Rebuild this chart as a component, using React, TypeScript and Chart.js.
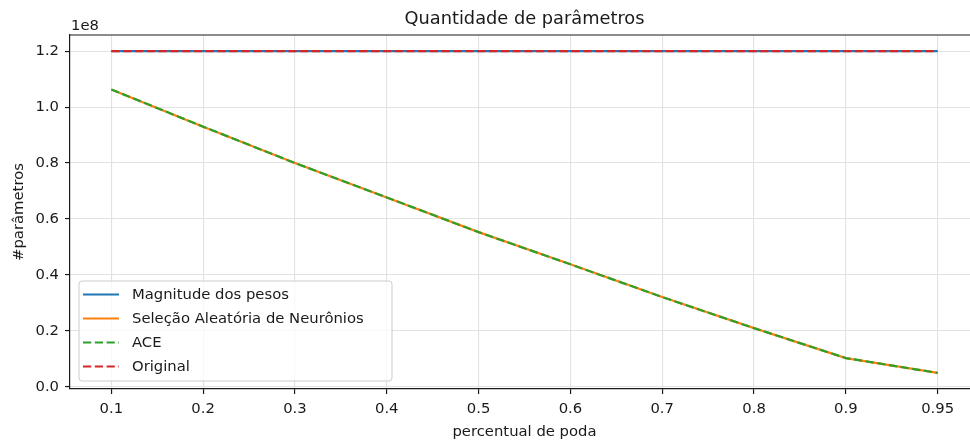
import React, { useEffect, useRef } from "react";
import { Chart, registerables } from "chart.js";

Chart.register(...registerables);

const xLabels = ["0.1", "0.2", "0.3", "0.4", "0.5", "0.6", "0.7", "0.8", "0.9", "0.95"];
const yTicks = [0, 0.2e8, 0.4e8, 0.6e8, 0.8e8, 1.0e8, 1.2e8];

const magnitudePesos = [1.2e8, 1.2e8, 1.2e8, 1.2e8, 1.2e8, 1.2e8, 1.2e8, 1.2e8, 1.2e8, 1.2e8];
const selecaoAleatoria = [1.063e8, 0.93e8, 0.8e8, 0.677e8, 0.553e8, 0.438e8, 0.321e8, 0.21e8, 0.103e8, 0.05e8];
const ace = [1.063e8, 0.93e8, 0.8e8, 0.677e8, 0.553e8, 0.438e8, 0.321e8, 0.21e8, 0.103e8, 0.05e8];
const original = [1.2e8, 1.2e8, 1.2e8, 1.2e8, 1.2e8, 1.2e8, 1.2e8, 1.2e8, 1.2e8, 1.2e8];

const seriesNames = ["Magnitude dos pesos", "Seleção Aleatória de Neurônios", "ACE", "Original"];
const seriesColors = ["#1f77b4", "#ff7f0e", "#2ca02c", "#d62728"];
const seriesDashed = [false, false, true, true];

const FONT = "'DejaVu Sans', sans-serif";
const DASH = [8.2, 3.6];
const LW = 2.2;
const GRID = "#e2e2e2";
const INK = "#1a1a1a";

const toPoints = (arr: number[]) => arr.map((y, i) => ({ x: i, y }));

const decorPlugin = {
  id: "decor",
  afterDraw(chart: any) {
    const { ctx, chartArea } = chart;
    const { left, right, top, bottom } = chartArea;
    const xs = chart.scales.x;
    ctx.save();
    // top spine
    ctx.strokeStyle = INK;
    ctx.lineWidth = 1.2;
    ctx.beginPath();
    ctx.moveTo(left, top);
    ctx.lineTo(right, top);
    ctx.stroke();
    // title and x label, centred on the full (cropped) axes box
    const fullRight = xs.getPixelForValue(9.45);
    ctx.fillStyle = INK;
    ctx.font = `17.8px ${FONT}`;
    ctx.textAlign = "center";
    ctx.textBaseline = "middle";
    ctx.fillText("Quantidade de parâmetros", (left + fullRight) / 2, 19);
    ctx.font = `14.8px ${FONT}`;
    ctx.fillText("percentual de poda", (left + fullRight) / 2, 432);
    // offset text
    ctx.textAlign = "left";
    ctx.fillText("1e8", left + 1, 26);
    // legend
    const bx = left + 9;
    const bw = 313;
    const bh = 100;
    const by = bottom - 8 - bh;
    const r = 3;
    ctx.beginPath();
    ctx.moveTo(bx + r, by);
    ctx.lineTo(bx + bw - r, by);
    ctx.arcTo(bx + bw, by, bx + bw, by + r, r);
    ctx.lineTo(bx + bw, by + bh - r);
    ctx.arcTo(bx + bw, by + bh, bx + bw - r, by + bh, r);
    ctx.lineTo(bx + r, by + bh);
    ctx.arcTo(bx, by + bh, bx, by + bh - r, r);
    ctx.lineTo(bx, by + r);
    ctx.arcTo(bx, by, bx + r, by, r);
    ctx.closePath();
    ctx.fillStyle = "rgba(255,255,255,0.8)";
    ctx.fill();
    ctx.strokeStyle = "#cccccc";
    ctx.lineWidth = 1;
    ctx.stroke();
    ctx.font = `14.8px ${FONT}`;
    ctx.textBaseline = "middle";
    ctx.textAlign = "left";
    seriesNames.forEach((name, i) => {
      const cy = by + 13.5 + i * 24;
      ctx.strokeStyle = seriesColors[i];
      ctx.lineWidth = LW;
      ctx.setLineDash(seriesDashed[i] ? DASH : []);
      ctx.beginPath();
      ctx.moveTo(bx + 4, cy);
      ctx.lineTo(bx + 40, cy);
      ctx.stroke();
      ctx.setLineDash([]);
      ctx.fillStyle = INK;
      ctx.fillText(name, bx + 53, cy + 1);
    });
    ctx.restore();
  },
};

export default function App() {
  const canvasRef = useRef<HTMLCanvasElement | null>(null);

  useEffect(() => {
    const canvas = canvasRef.current;
    if (!canvas) return;
    const series = [magnitudePesos, selecaoAleatoria, ace, original];
    const chart = new Chart(canvas, {
      type: "line",
      data: {
        datasets: series.map((arr, i) => ({
          label: seriesNames[i],
          data: toPoints(arr),
          borderColor: seriesColors[i],
          backgroundColor: seriesColors[i],
          borderWidth: LW,
          borderDash: seriesDashed[i] ? DASH : [],
          pointRadius: 0,
          tension: 0,
          fill: false,
          order: 4 - i,
        })),
      },
      options: {
        animation: false,
        responsive: false,
        devicePixelRatio: 1,
        layout: { padding: { top: 35, right: 0, bottom: 0, left: 0 } },
        plugins: {
          legend: { display: false },
          title: { display: false },
          tooltip: { enabled: false },
        },
        scales: {
          x: {
            type: "linear",
            min: -0.45,
            max: 9.352,
            afterBuildTicks: (scale: any) => {
              scale.ticks = xLabels.map((_, i) => ({ value: i }));
            },
            afterFit: (scale: any) => {
              scale.height = 52;
            },
            ticks: {
              autoSkip: false,
              maxRotation: 0,
              padding: 6,
              color: INK,
              font: { family: FONT, size: 14.8 },
              callback: (v: any) => xLabels[v as number] ?? "",
            },
            grid: {
              color: GRID,
              lineWidth: 1.1,
              tickColor: INK,
              tickLength: 5,
              tickWidth: 1.2,
            },
            border: { display: true, color: INK, width: 1.2 },
            title: { display: false },
          },
          y: {
            type: "linear",
            min: -0.0075e8,
            max: 1.2575e8,
            afterBuildTicks: (scale: any) => {
              scale.ticks = yTicks.map((v) => ({ value: v }));
            },
            afterFit: (scale: any) => {
              scale.width = 70;
            },
            ticks: {
              padding: 6,
              color: INK,
              font: { family: FONT, size: 14.8 },
              callback: (v: any) => ((v as number) / 1e8).toFixed(1),
            },
            grid: {
              color: GRID,
              lineWidth: 1.1,
              tickColor: INK,
              tickLength: 5,
              tickWidth: 1.2,
            },
            border: { display: true, color: INK, width: 1.2 },
            title: {
              display: true,
              text: "#parâmetros",
              color: INK,
              font: { family: FONT, size: 14.8 },
              padding: { top: 10, bottom: 0 },
            },
          },
        },
      },
      plugins: [decorPlugin],
    } as any);
    return () => chart.destroy();
  }, []);

  return (
    <div
      style={{
        position: "absolute",
        left: 0,
        top: 0,
        width: 970,
        height: 441,
        overflow: "hidden",
        background: "#fff",
      }}
    >
      <canvas ref={canvasRef} width={970} height={441} style={{ width: 970, height: 441, display: "block" }} />
    </div>
  );
}
